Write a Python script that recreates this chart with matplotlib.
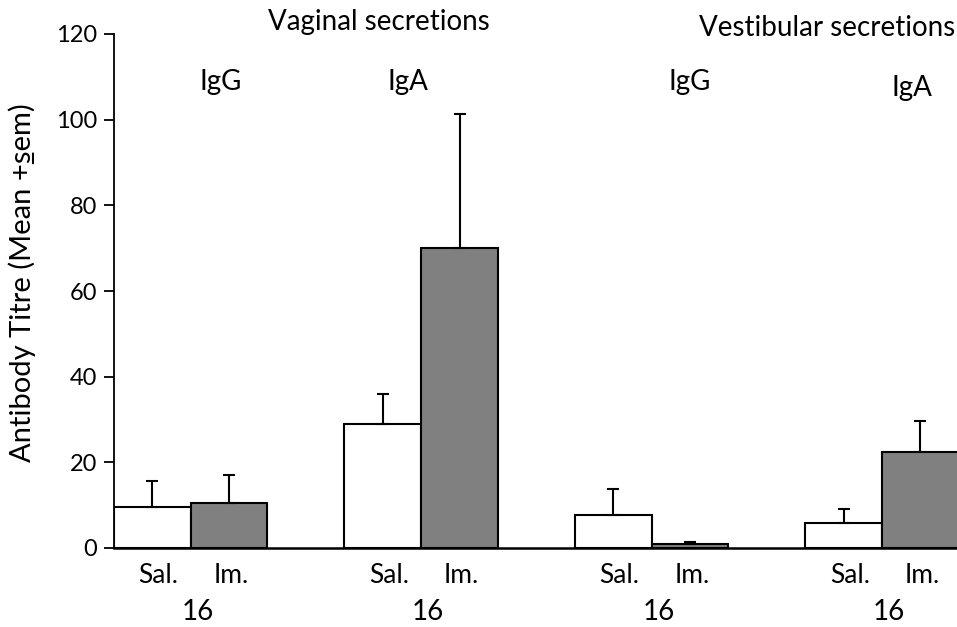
import matplotlib
matplotlib.use("Agg")
import matplotlib.pyplot as plt
import numpy as np

# values
groups = ["Vaginal IgG", "Vaginal IgA", "Vestibular IgG", "Vestibular IgA"]
sal_mean = [9.6, 28.9, 7.8, 5.9]
sal_sem = [6.1, 7.1, 6.0, 3.3]
im_mean = [10.6, 70.0, 0.9, 22.3]
im_sem = [6.4, 31.3, 0.4, 7.4]
bar_labels = ["Sal.", "Im."]
week_labels = ["16", "16", "16", "16"]
ig_labels = ["IgG", "IgA", "IgG", "IgA"]
section_titles = ["Vaginal secretions", "Vestibular secretions"]

plt.rcParams["font.family"] = ["Lato", "DejaVu Sans"]

W, H = 957, 627
fig = plt.figure(figsize=(W / 100, H / 100), dpi=100)
ax = fig.add_axes([114 / W, (H - 548) / H, (W - 114) / W, (548 - 34) / H])

x = np.arange(len(groups))
w = 0.333
ekw = dict(ecolor="black", elinewidth=1.5, capsize=4.5, capthick=1.5)
ax.bar(x - w / 2, sal_mean, w, color="white", edgecolor="black", linewidth=1.5,
       yerr=[np.zeros(4), sal_sem], error_kw=ekw, zorder=2)
ax.bar(x + w / 2, im_mean, w, color="#808080", edgecolor="black", linewidth=1.5,
       yerr=[np.zeros(4), im_sem], error_kw=ekw, zorder=2)

ax.set_xlim(-w, 3 + 0.325)
ax.set_ylim(0, 120)
ax.set_yticks(range(0, 121, 20))
ax.set_xticks([])
ax.tick_params(axis="y", labelsize=17, length=7, width=1.3, direction="out", pad=5)
for s in ["top", "right"]:
    ax.spines[s].set_visible(False)
ax.spines["left"].set_linewidth(1.3)
ax.spines["bottom"].set_linewidth(1.8)

# y label placed in figure coords (centre ~22 px from the left edge)
fig.text(22 / W, 1 - 283 / H, "Antibody Titre (Mean +\u0332sem)", rotation=90,
         ha="center", va="center", fontsize=21)

for i in x:
    ax.text(i - 0.14, -6.5, bar_labels[0], ha="center", va="center", fontsize=19, clip_on=False)
    ax.text(i + 0.175, -6.5, bar_labels[1], ha="center", va="center", fontsize=19, clip_on=False)
    ax.text(i + 0.03, -15.0, week_labels[i], ha="center", va="center", fontsize=20, clip_on=False)

ig_pos = [(0.131, 108.8), (0.943, 108.8), (2.167, 108.8), (3.13, 107.4)]
for (px, py), lab in zip(ig_pos, ig_labels):
    ax.text(px, py, lab, ha="center", va="center", fontsize=20, clip_on=False)

ax.text(0.817, 122.8, section_titles[0], ha="center", va="center", fontsize=20, clip_on=False)
ax.text(2.762, 121.4, section_titles[1], ha="center", va="center", fontsize=20, clip_on=False)

fig.savefig("out.png", dpi=100)
